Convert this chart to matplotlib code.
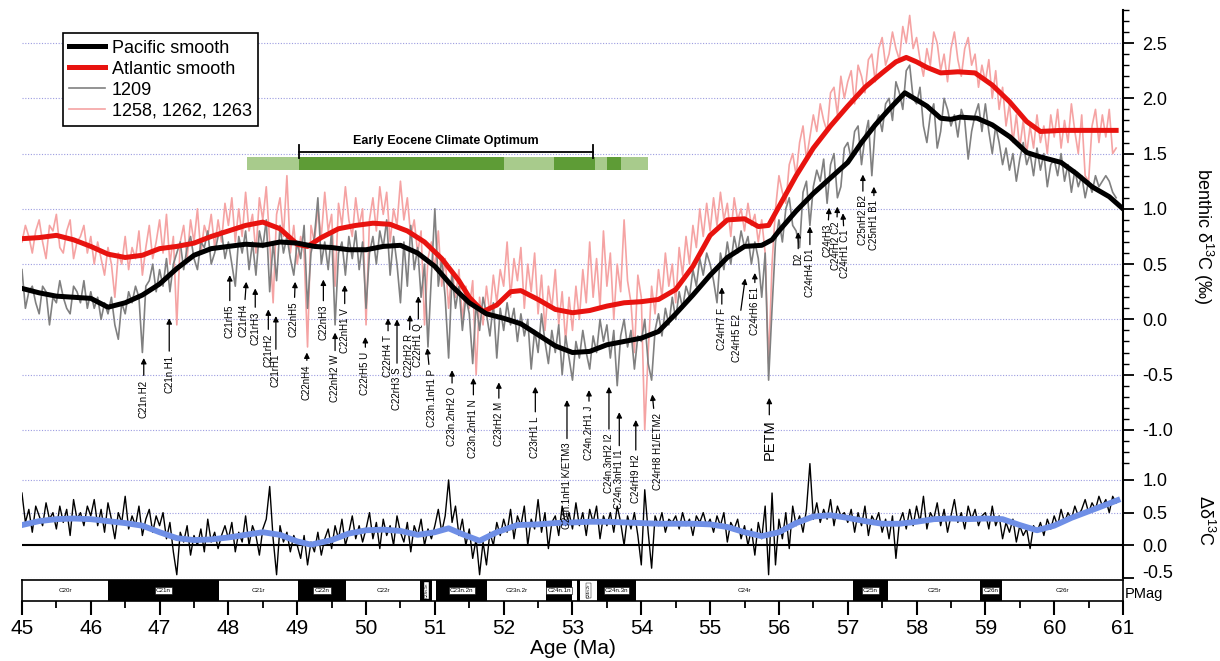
import numpy as np
import matplotlib.pyplot as plt
from matplotlib.ticker import MultipleLocator

plt.rcParams['font.family'] = ['Liberation Sans', 'DejaVu Sans']
plt.rcParams['mathtext.fontset'] = 'custom'
plt.rcParams['mathtext.rm'] = 'Liberation Sans'
plt.rcParams['mathtext.it'] = 'Liberation Sans:italic'
plt.rcParams['axes.unicode_minus'] = False

# ---- smoothed benthic d13C records ----
pac_age = [45.0, 45.25, 45.5, 45.75, 46.0, 46.25, 46.5, 46.75, 47.0, 47.25, 47.5, 47.75,
           48.0, 48.25, 48.5, 48.75, 49.0, 49.25, 49.5, 49.75, 50.0, 50.25, 50.5, 50.75,
           51.0, 51.25, 51.5, 51.75, 52.0, 52.25, 52.5, 52.75, 53.0, 53.25, 53.5, 53.75,
           54.0, 54.25, 54.5, 54.75, 55.0, 55.25, 55.5, 55.75, 55.9, 56.0, 56.25, 56.5,
           56.75, 57.0, 57.2, 57.4, 57.6, 57.83, 58.15, 58.35, 58.5, 58.63, 58.88, 59.1,
           59.36, 59.6, 59.8, 60.1, 60.32, 60.55, 60.8, 61.0]
pac_smooth = [0.28, 0.24, 0.21, 0.20, 0.19, 0.11, 0.15, 0.22, 0.32, 0.46, 0.58, 0.64,
              0.66, 0.68, 0.67, 0.70, 0.69, 0.66, 0.65, 0.63, 0.63, 0.66, 0.67, 0.60,
              0.48, 0.30, 0.15, 0.05, 0.01, -0.04, -0.14, -0.24, -0.30, -0.29, -0.23, -0.20,
              -0.17, -0.11, 0.05, 0.22, 0.40, 0.56, 0.66, 0.67, 0.72, 0.80, 0.98, 1.14,
              1.28, 1.42, 1.60, 1.76, 1.90, 2.05, 1.93, 1.82, 1.81, 1.83, 1.82, 1.76,
              1.65, 1.51, 1.47, 1.42, 1.32, 1.20, 1.11, 1.00]

atl_age = [45.0, 45.25, 45.5, 45.75, 46.0, 46.25, 46.5, 46.75, 47.0, 47.25, 47.5, 47.75,
           48.0, 48.25, 48.5, 48.75, 49.0, 49.15, 49.35, 49.6, 49.85, 50.1, 50.35, 50.6,
           50.85, 51.1, 51.35, 51.5, 51.7, 51.9, 52.1, 52.25, 52.5, 52.75, 53.0, 53.25,
           53.5, 53.75, 54.0, 54.25, 54.5, 54.75, 55.0, 55.25, 55.5, 55.7, 55.85, 56.0,
           56.25, 56.5, 56.75, 57.0, 57.25, 57.5, 57.7, 57.85, 58.0, 58.15, 58.35, 58.6,
           58.85, 59.1, 59.35, 59.6, 59.8, 60.1, 60.5, 60.9]
atl_smooth = [0.73, 0.74, 0.76, 0.72, 0.66, 0.59, 0.56, 0.58, 0.64, 0.66, 0.69, 0.75,
              0.80, 0.85, 0.88, 0.82, 0.68, 0.66, 0.74, 0.82, 0.85, 0.87, 0.86, 0.80,
              0.70, 0.55, 0.35, 0.20, 0.07, 0.13, 0.25, 0.26, 0.18, 0.09, 0.06, 0.08,
              0.12, 0.15, 0.16, 0.18, 0.27, 0.48, 0.76, 0.90, 0.91, 0.84, 0.85, 1.02,
              1.30, 1.55, 1.75, 1.93, 2.10, 2.23, 2.33, 2.37, 2.33, 2.28, 2.23, 2.24,
              2.23, 2.12, 1.97, 1.79, 1.70, 1.71, 1.71, 1.71]

# ---- raw records, 0.05 Myr steps from 45.0 Ma ----
site_1209 = [
    0.45, 0.10, 0.25, 0.30, 0.15, 0.05, 0.30, 0.25, -0.05, 0.20, 0.15, 0.35, 0.20, 0.10, 0.05, 0.30, 0.25, 0.15, 0.35, 0.10,
    0.25, 0.10, 0.20, 0.00, 0.15, 0.05, 0.20, -0.05, -0.18, 0.15, 0.05, 0.25, 0.15, 0.30, 0.20, -0.30, 0.30, 0.35, 0.50, 0.25,
    0.45, 0.30, 0.55, 0.25, 0.50, 0.60, 0.70, 0.45, 0.65, 0.75, 0.55, 0.45, 0.70, 0.65, 0.80, 0.50, 0.60, 0.75, 0.80, 0.55,
    0.70, 0.50, 0.30, 0.75, 0.60, 0.80, 0.45, 0.70, 0.40, 0.80, 0.65, 0.90, 0.25, 0.70, 0.35, 0.85, 0.60, 0.75, 0.55, 0.40,
    0.70, 0.55, 0.85, 0.10, 0.60, 0.75, 1.10, 0.50, 0.70, 0.45, 0.80, -0.05, 0.60, 0.70, 0.40, 0.75, 0.55, 0.80, 0.45, 0.70,
    0.10, 0.60, 0.75, 0.50, 0.80, 0.65, 0.90, 0.40, 0.75, 0.50, 0.15, 0.70, 0.30, 0.85, 0.45, 0.65, 0.20, 0.50, -0.25, 0.40,
    1.00, 0.30, 0.55, 0.20, -0.35, 0.40, 0.10, 0.30, -0.10, 0.20, 0.05, -0.40, 0.15, -0.10, 0.20, 0.05, -0.15, 0.15, -0.35, 0.10,
    -0.10, 0.15, -0.05, 0.10, -0.20, 0.05, -0.15, 0.00, -0.45, -0.10, -0.30, 0.05, -0.20, -0.40, -0.10, -0.30, -0.05, -0.50, -0.15, -0.35,
    -0.55, -0.20, -0.35, -0.10, -0.30, -0.45, -0.15, -0.30, 0.00, -0.20, -0.05, -0.35, -0.10, -0.60, -0.15, 0.00, -0.25, -0.10, -0.45, -0.15,
    -0.20, 0.00, -0.40, -0.55, -0.10, 0.05, -0.15, 0.10, -0.05, 0.20, 0.00, 0.25, 0.10, 0.30, 0.20, 0.45, 0.30, 0.55, 0.40, 0.60,
    0.50, 0.35, 0.15, 0.60, 0.45, 0.70, 0.50, 0.75, 0.60, 0.80, 0.65, 0.75, 0.50, 0.70, 0.55, 0.20, 0.60, -0.55, 0.10, 0.70,
    0.90, 0.70, 1.00, 1.10, 0.85, 0.80, 0.65, 1.15, 1.25, 0.85, 1.20, 1.35, 1.25, 1.45, 1.05, 1.40, 1.50, 1.10, 1.20, 1.55,
    1.60, 1.45, 1.70, 1.75, 1.40, 1.65, 1.80, 1.30, 1.75, 1.85, 1.70, 1.95, 2.00, 1.80, 2.15, 2.05, 1.90, 2.25, 2.30, 2.00,
    1.95, 2.10, 1.75, 1.60, 1.85, 1.95, 1.55, 1.70, 2.00, 1.90, 1.75, 1.85, 1.65, 1.90, 1.80, 1.45, 1.70, 1.85, 1.95, 1.70,
    1.95, 1.70, 1.50, 1.75, 1.60, 1.40, 1.55, 1.35, 1.50, 1.25, 1.45, 1.60, 1.40, 1.50, 1.30, 1.55, 1.35, 1.50, 1.20, 1.40,
    1.45, 1.30, 1.50, 1.25, 1.40, 1.15, 1.35, 1.20, 1.30, 1.10, 1.25, 1.15, 1.30, 1.20, 1.25, 1.30, 1.25, 1.15, 1.10]

sites_atl = [
    0.70, 0.85, 0.75, 0.60, 0.80, 0.90, 0.70, 0.55, 0.85, 0.80, 0.95, 0.65, 0.60, 0.80, 0.90, 0.55, 0.70, 0.75, 0.85, 0.60,
    0.75, 0.50, 0.70, 0.55, 0.40, 0.65, 0.50, 0.20, 0.60, 0.50, 0.75, 0.45, 0.65, 0.55, 0.80, 0.40, 0.65, 0.85, 0.55, 0.70,
    0.90, 0.60, 0.95, 0.50, 0.75, -0.05, 0.70, 0.85, 0.55, 0.90, 0.70, 1.00, 0.60, 0.85, 0.75, 0.95, 0.65, 0.90, 0.70, 1.05,
    0.85, 1.10, 0.70, 1.00, 0.75, 1.15, 0.80, 0.95, 0.60, 1.10, 0.90, 1.20, 0.70, 0.15, 0.95, 1.10, 0.75, 1.30, 0.60, 0.85,
    0.50, 0.75, 0.60, -0.25, 0.85, 0.70, 1.00, 0.75, 1.15, 0.80, 0.95, 0.30, 1.05, 0.85, 1.20, 0.90, 0.75, 1.10, 0.85, 1.00,
    -0.05, 0.90, 1.10, 0.80, 1.20, 0.95, 1.15, 0.70, 1.00, 0.85, 1.25, 0.90, 1.10, 0.75, 0.90, 0.60, 0.80, -0.05, 0.55, 0.70,
    0.45, 0.80, 0.30, 0.55, 0.10, 0.45, 0.20, 0.45, 0.00, 0.30, 0.10, 0.35, -0.50, 0.20, -0.05, 0.30, 0.05, 0.40, 0.15, 0.45,
    0.30, 0.70, 0.20, 0.55, 0.35, 0.65, 0.10, 0.50, 0.25, 0.60, 0.05, 0.40, -0.10, 0.30, 0.10, 0.45, -0.05, 0.25, -0.20, 0.20,
    -0.10, 0.30, 0.00, 0.45, 0.15, 0.70, 0.20, 0.55, 0.10, 0.80, 0.30, 0.60, 0.00, 0.50, 0.25, 0.90, 0.35, 0.15, -0.30, 0.40,
    0.20, -1.00, -0.30, 0.30, 0.05, 0.45, 0.20, 0.60, 0.30, 0.50, 0.15, 0.65, 0.40, 0.75, 0.50, 0.85, 0.65, 1.00, 0.75, 1.05,
    0.80, 1.10, 0.85, 1.15, 0.90, 1.05, 0.75, 1.10, 0.90, 1.00, 0.80, 1.05, 0.85, 0.95, 0.70, 0.90, 0.60, -0.40, 0.50, 1.00,
    1.30, 1.15, 1.05, 1.40, 1.50, 1.30, 1.60, 1.75, 1.45, 1.65, 1.85, 1.70, 1.95, 1.80, 1.70, 2.05, 2.10, 1.85, 2.20, 2.00,
    2.15, 2.25, 1.95, 2.30, 2.20, 2.05, 2.35, 2.40, 2.15, 2.45, 2.55, 2.30, 2.40, 2.60, 2.45, 2.35, 2.65, 2.50, 2.75, 2.45,
    2.55, 2.35, 2.20, 2.45, 2.30, 2.60, 2.50, 2.25, 2.40, 2.15, 2.45, 2.60, 2.35, 2.20, 2.45, 2.55, 2.30, 2.40, 2.10, 2.30,
    2.15, 2.35, 2.00, 2.25, 1.90, 2.10, 1.75, 1.95, 1.60, 1.85, 1.55, 1.80, 1.50, 1.75, 1.55, 1.85, 1.60, 1.75, 1.50, 1.85,
    1.65, 1.90, 1.55, 1.80, 1.60, 1.95, 1.70, 1.50, 1.85, 1.30, 1.25, 1.75, 1.90, 1.60, 1.85, 1.65, 1.90, 1.50, 1.55]

# Atlantic minus Pacific
delta_raw = [
    0.80, 0.35, 0.55, 0.20, 0.60, 0.45, 0.30, 0.65, 0.40, 0.50, 0.25, 0.60, 0.35, 0.55, 0.15, 0.70, 0.40, 0.50, 0.30, 0.60,
    0.45, 0.70, 0.30, 0.55, 0.20, 0.65, 0.40, 0.10, 0.50, 0.35, 0.75, 0.25, 0.45, 0.30, 0.60, 0.15, 0.40, 0.55, 0.20, 0.45,
    0.30, 0.50, 0.10, 0.35, -0.10, -0.45, 0.20, 0.05, 0.30, -0.15, 0.15, 0.00, 0.25, -0.10, 0.40, 0.05, 0.20, -0.05, 0.15, 0.30,
    0.10, 0.35, -0.10, 0.20, 0.05, 0.45, 0.00, 0.30, 0.15, -0.15, 0.25, 0.40, 0.90, 0.10, -0.45, 0.30, 0.05, 0.20, -0.10, 0.15,
    0.00, -0.20, 0.15, -0.30, 0.05, -0.10, 0.20, -0.15, 0.10, 0.25, -0.05, 0.30, 0.10, 0.40, 0.00, 0.20, 0.45, 0.10, 0.30, 0.05,
    0.25, 0.50, 0.10, 0.35, -0.05, 0.40, 0.15, 0.30, 0.00, 0.45, 0.20, 0.05, 0.35, -0.10, 0.30, 0.15, 0.40, 0.00, 0.25, 0.10,
    0.30, 0.55, 0.20, 0.45, 1.00, 0.35, 0.60, 0.15, 0.40, 0.00, 0.25, -0.20, 0.10, -0.45, 0.05, -0.30, 0.20, 0.00, 0.35, 0.15,
    0.40, 0.20, 0.55, 0.10, 0.45, 0.30, 0.60, 0.00, 0.40, 0.25, 0.70, 0.20, 0.50, -0.05, 0.35, 0.45, 0.15, 0.60, 0.30, 0.50,
    0.25, 0.65, 0.30, 0.50, 0.15, 0.55, 0.35, 0.60, 0.10, 0.45, 0.30, 0.50, 0.20, 0.60, 0.35, 0.00, 0.45, 0.25, 0.50, 0.15,
    -0.30, 0.85, 0.20, -0.35, 0.45, 0.30, 0.50, 0.20, 0.40, 0.35, 0.45, 0.25, 0.50, 0.30, 0.40, 0.15, 0.45, 0.35, 0.50, 0.30,
    0.40, 0.20, 0.45, 0.30, 0.50, 0.05, 0.35, 0.25, 0.40, 0.10, 0.30, 0.00, 0.25, -0.15, 0.35, 0.10, 0.60, -0.45, 0.80, -0.30,
    0.40, 0.10, 0.50, -0.05, 0.60, 0.30, 0.45, 0.20, 0.55, 1.25, 0.40, 0.65, 0.35, 0.55, 0.40, 0.70, 0.30, 0.60, 0.45, 0.50,
    0.35, 0.55, 0.20, 0.50, 0.30, 0.60, 0.15, 0.45, 0.35, 0.50, 0.20, 0.40, 0.10, 0.45, -0.20, 0.35, 0.50, 0.25, 0.55, 0.30,
    0.60, 0.35, 0.75, 0.25, 0.50, 0.40, 0.65, 0.30, 0.55, 0.20, 0.45, 0.70, 0.35, 0.50, 0.25, 0.60, 0.40, 0.55, 0.30, 0.45,
    0.50, 0.25, 0.60, 0.30, 0.45, 0.10, 0.35, 0.20, 0.40, 0.05, 0.30, 0.15, 0.25, -0.05, 0.30, 0.20, 0.35, 0.15, 0.40, 0.25,
    0.45, 0.30, 0.55, 0.35, 0.50, 0.40, 0.60, 0.45, 0.55, 0.70, 0.50, 0.65, 0.55, 0.75, 0.60, 0.70, 0.50, 0.75, 0.65]

delta_age = [45.0, 45.25, 45.5, 45.75, 46.0, 46.25, 46.5, 46.75, 47.0, 47.25, 47.5, 47.75,
             48.0, 48.25, 48.5, 48.75, 49.0, 49.2, 49.5, 49.75, 50.0, 50.25, 50.5, 50.75,
             51.0, 51.2, 51.4, 51.65, 51.9, 52.2, 52.5, 52.75, 53.0, 53.25, 53.5, 53.75,
             54.0, 54.25, 54.5, 54.75, 55.0, 55.25, 55.5, 55.75, 56.0, 56.25, 56.5, 56.75,
             57.0, 57.25, 57.5, 57.75, 58.0, 58.25, 58.5, 58.75, 59.0, 59.25, 59.5, 59.75,
             60.0, 60.25, 60.5, 60.75, 60.92]
delta_smooth = [0.31, 0.37, 0.40, 0.41, 0.40, 0.37, 0.34, 0.30, 0.20, 0.11, 0.08, 0.09,
                0.12, 0.16, 0.20, 0.16, 0.06, 0.01, 0.08, 0.18, 0.23, 0.24, 0.22, 0.16,
                0.20, 0.26, 0.17, 0.07, 0.20, 0.31, 0.32, 0.34, 0.35, 0.36, 0.36, 0.35,
                0.34, 0.33, 0.33, 0.33, 0.32, 0.28, 0.20, 0.14, 0.20, 0.34, 0.44, 0.46,
                0.42, 0.37, 0.33, 0.33, 0.36, 0.40, 0.41, 0.40, 0.41, 0.40, 0.31, 0.23,
                0.30, 0.42, 0.52, 0.62, 0.69]

# ---- labelled carbon-isotope excursions ----
event_labels = ['C21n.H2', 'C21n.H1', 'C21rH5', 'C21rH4', 'C21rH3', 'C21rH2', 'C21rH1',
                'C22nH5', 'C22nH4', 'C22nH3', 'C22nH2 W', 'C22nH1 V', 'C22rH5 U',
                'C22rH4 T', 'C22rH3 S', 'C22rH2 R', 'C22rH1 Q', 'C23n.1nH1 P',
                'C23n.2nH2 O', 'C23n.2nH1 N', 'C23rH2 M', 'C23rH1 L', 'C24n.1nH1 K/ETM3',
                'C24n.2rH1 J', 'C24n.3nH2 I2', 'C24n.3nH1 I1', 'C24rH9 H2', 'C24rH8 H1/ETM2',
                'C24rH7 F', 'C24rH5 E2', 'C24rH6 E1', 'PETM', 'D2', 'C24rH4 D1', 'C24rH3',
                'C24rH2 C2', 'C24rH1 C1', 'C25nH2 B2', 'C25nH1 B1']
event_age = [46.77, 47.14, 48.02, 48.26, 48.39, 48.58, 48.69, 48.97, 49.14, 49.38, 49.55,
             49.69, 49.99, 50.32, 50.45, 50.64, 50.76, 50.89, 51.25, 51.56, 51.93, 52.46,
             52.92, 53.24, 53.53, 53.68, 53.92, 54.16, 55.17, 55.51, 55.65, 55.86, 56.28,
             56.45, 56.73, 56.85, 56.93, 57.22, 57.38]
event_text_age = [46.77, 47.14, 48.02, 48.22, 48.39, 48.58, 48.69, 48.95, 49.14, 49.38, 49.55,
                  49.69, 49.99, 50.32, 50.45, 50.62, 50.76, 50.96, 51.25, 51.56, 51.93, 52.46,
                  52.92, 53.24, 53.53, 53.68, 53.92, 54.24, 55.17, 55.39, 55.65, 55.86, 56.28,
                  56.45, 56.70, 56.83, 56.96, 57.22, 57.38]
event_tip = [-0.35, 0.01, 0.40, 0.34, 0.28, 0.09, 0.03, 0.34, -0.30, 0.36, -0.12, 0.31,
             -0.16, 0.01, 0.00, 0.04, 0.21, -0.26, -0.46, -0.53, -0.57, -0.61, -0.73, -0.64,
             -0.61, -0.84, -0.91, -0.68, 0.29, 0.37, 0.42, -0.71, 0.79, 0.84, 1.01, 1.02,
             0.96, 1.31, 1.20]
event_base = [-0.89, -0.67, -0.17, -0.16, -0.23, -0.43, -0.61, -0.16, -0.73, -0.19, -0.75,
              -0.30, -0.68, -0.52, -0.82, -0.52, -0.43, -0.97, -1.15, -1.25, -1.15, -1.25,
              -1.90, -1.27, -1.57, -1.72, -1.66, -1.54, -0.28, -0.39, -0.14, -1.27, 0.49,
              0.20, 0.56, 0.45, 0.37, 0.67, 0.63]

# ---- EECO bar ----
eeco_start = [48.27, 49.03, 52.0, 52.73, 53.33, 53.5, 53.71]
eeco_end = [49.03, 52.0, 52.73, 53.33, 53.5, 53.71, 54.1]
eeco_core = [False, True, False, True, False, True, False]

# ---- magnetostratigraphy ----
chron_names = ['C20r', 'C21n', 'C21r', 'C22n', 'C22r', 'C23n.1n', 'C23n.1r', 'C23n.2n',
               'C23n.2r', 'C24n.1n', 'C24n.1r', 'C24n.2n', 'C24n.2r', 'C24n.3n', 'C24r',
               'C25n', 'C25r', 'C26n', 'C26r']
chron_top = [45.0, 46.25, 47.86, 49.01, 49.71, 50.79, 50.96, 51.02, 51.76, 52.62, 52.99,
             53.07, 53.11, 53.36, 53.92, 57.07, 57.59, 58.92, 59.24]
chron_base = [46.25, 47.86, 49.01, 49.71, 50.79, 50.96, 51.02, 51.76, 52.62, 52.99, 53.07,
              53.11, 53.36, 53.92, 57.07, 57.59, 58.92, 59.24, 61.0]
chron_normal = [False, True, False, True, False, True, False, True, False, True, False,
                True, False, True, False, True, False, True, False]

raw_age = 45.0 + 0.05 * np.arange(len(site_1209))
atl_raw_age = 45.0 + 0.05 * np.arange(len(sites_atl))
delta_raw_age = 45.0 + 0.05 * np.arange(len(delta_raw))

grid_col = '#9c9ce0'
fig = plt.figure(figsize=(12.2, 6.61), dpi=100)
ax1 = fig.add_axes([0.018, 0.2995, 0.9025, 0.6855])
ax2 = fig.add_axes([0.018, 0.1256, 0.9025, 0.174])
ax3 = fig.add_axes([0.018, 0.0908, 0.9025, 0.0318])
ax1.set_zorder(3)
ax1.patch.set_visible(False)

# top panel
for v in np.arange(-1.0, 2.51, 0.5):
    ax1.axhline(v, color=grid_col, lw=0.8, ls=(0, (1, 1.5)), zorder=0)
l_atl_raw, = ax1.plot(atl_raw_age, sites_atl, color='#f5a3a3', lw=1.2, zorder=1)
l_1209, = ax1.plot(raw_age, site_1209, color='#808080', lw=1.2, zorder=2)
l_atl, = ax1.plot(atl_age, atl_smooth, color='#e8130f', lw=3.6, zorder=3)
l_pac, = ax1.plot(pac_age, pac_smooth, color='black', lw=3.6, zorder=4)

ax1.set_xlim(45, 61)
ax1.set_ylim(-1.3, 2.8)
for s in ['left', 'top', 'bottom']:
    ax1.spines[s].set_visible(False)
ax1.spines['right'].set_linewidth(1.5)
ax1.set_xticks([])
ax1.yaxis.tick_right()
ax1.yaxis.set_minor_locator(MultipleLocator(0.1))
ax1.set_yticks(np.arange(-1.0, 2.51, 0.5))
ax1.set_yticklabels(['%.1f' % v for v in np.arange(-1.0, 2.51, 0.5)])
ax1.tick_params(axis='y', which='major', length=8, width=1.3, labelsize=13, pad=6)
ax1.tick_params(axis='y', which='minor', length=4, width=1.0)
ax1.yaxis.set_label_position('right')
ax1.set_ylabel('benthic δ$^{13}$C (‰)', rotation=270, fontsize=13, labelpad=30)

leg = ax1.legend([l_pac, l_atl, l_1209, l_atl_raw],
                 ['Pacific smooth', 'Atlantic smooth', '1209', '1258, 1262, 1263'],
                 loc='upper left', bbox_to_anchor=(0.029, 0.968), fontsize=13,
                 frameon=True, fancybox=False, edgecolor='black', framealpha=1,
                 handlelength=2.0, labelspacing=0.22, borderpad=0.35, handletextpad=0.35)
leg.get_frame().set_linewidth(1.2)

# EECO bar
for a0, a1, core in zip(eeco_start, eeco_end, eeco_core):
    ax1.fill_between([a0, a1], 1.35, 1.47, color='#5e9c36' if core else '#a8cb8c', lw=0, zorder=2)
ax1.plot([49.03, 53.3], [1.515, 1.515], color='black', lw=1.3, zorder=3)
ax1.plot([49.03, 49.03], [1.46, 1.58], color='black', lw=1.3, zorder=3)
ax1.plot([53.3, 53.3], [1.46, 1.58], color='black', lw=1.3, zorder=3)
ax1.text(51.16, 1.56, 'Early Eocene Climate Optimum', ha='center', va='bottom',
         fontsize=9, fontweight='bold')

# event arrows
for lab, xa, xt, tip, base in zip(event_labels, event_age, event_text_age, event_tip, event_base):
    fs = 10.5 if lab == 'PETM' else 7
    ax1.annotate(lab, xy=(xa, tip), xytext=(xt, base), rotation=90, ha='center', va='bottom',
                 fontsize=fs, annotation_clip=False, zorder=6,
                 arrowprops=dict(arrowstyle='-|>', color='black', lw=0.9, mutation_scale=8,
                                 shrinkA=1, shrinkB=0))

# difference panel
for v in [-0.5, 0.5, 1.0]:
    ax2.axhline(v, color=grid_col, lw=0.8, ls=(0, (1, 1.5)), zorder=0)
ax2.axhline(0, color='black', lw=1.5, zorder=1)
ax2.plot(delta_raw_age, delta_raw, color='black', lw=1.0, zorder=2)
ax2.plot(delta_age, delta_smooth, color='#6f8fe6', lw=4.2, zorder=3)
ax2.set_xlim(45, 61)
ax2.set_ylim(-0.5, 1.26)
for s in ['left', 'top', 'bottom']:
    ax2.spines[s].set_visible(False)
ax2.spines['right'].set_linewidth(1.5)
ax2.set_xticks([])
ax2.yaxis.tick_right()
ax2.set_yticks([-0.5, 0.0, 0.5, 1.0])
ax2.set_yticklabels(['-0.5', '0.0', '0.5', '1.0'])
ax2.get_yticklabels()[0].set_va('baseline')
ax2.tick_params(axis='y', length=8, width=1.3, labelsize=13, pad=6)
ax2.yaxis.set_label_position('right')
ax2.set_ylabel('Δδ$^{13}$C', rotation=270, fontsize=13, labelpad=30)

# PMag bar
for name, a0, a1, normal in zip(chron_names, chron_top, chron_base, chron_normal):
    ax3.axvspan(a0, a1, color='black' if normal else 'white', lw=0)
    w = a1 - a0
    mid = (a0 + a1) / 2
    if w > 0.3:
        if normal:
            ax3.text(mid, 0.5, name, ha='center', va='center', fontsize=4.5,
                     bbox=dict(facecolor='white', edgecolor='black', lw=0.4, pad=0.8))
        else:
            ax3.text(mid, 0.5, name, ha='center', va='center', fontsize=4.5)
    elif w > 0.1:
        ax3.text(mid, 0.5, name, ha='center', va='center', fontsize=3, rotation=90,
                 bbox=dict(facecolor='white', edgecolor='black', lw=0.3, pad=0.4))
ax3.set_xlim(45, 61)
ax3.set_ylim(0, 1)
ax3.set_yticks([])
for s in ax3.spines.values():
    s.set_linewidth(1.2)
ax3.xaxis.set_major_locator(MultipleLocator(1))
ax3.xaxis.set_minor_locator(MultipleLocator(0.5))
ax3.tick_params(axis='x', which='major', length=10, width=1.5, labelsize=15, pad=3)
ax3.tick_params(axis='x', which='minor', length=5, width=1.3)
ax3.set_xlabel('Age (Ma)', fontsize=15, labelpad=1)
ax3.text(1.002, 0.35, 'PMag', transform=ax3.transAxes, ha='left', va='center', fontsize=10.5)

fig.savefig('out.png', dpi=100)
